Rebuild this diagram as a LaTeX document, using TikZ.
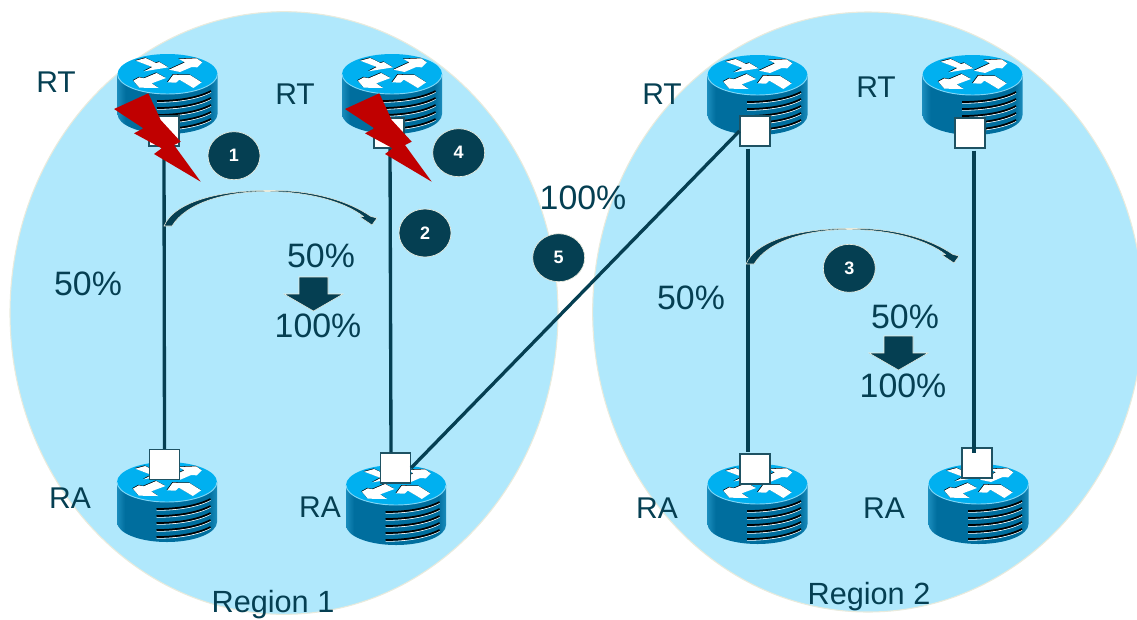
\documentclass[tikz,border=0pt]{standalone}
\usepackage{fontspec}
\setmainfont{Liberation Sans}
\usetikzlibrary{calc,shapes.geometric}
\definecolor{ink}{HTML}{053F52}
\definecolor{regionfill}{HTML}{B0E8FC}
\definecolor{paleedge}{HTML}{E9EBDD}
\definecolor{routertop}{HTML}{00B0F0}
\definecolor{routerrim}{HTML}{7FD6F6}
\definecolor{routerside}{HTML}{006E9E}
\definecolor{routerlight}{HTML}{1A8CBC}
\definecolor{boltred}{HTML}{C00000}
\pgfdeclarehorizontalshading{routerbody}{100bp}{color(0bp)=(routerlight); color(25bp)=(routerlight); color(29bp)=(routerside); color(71bp)=(routerside); color(75bp)=(routerlight); color(100bp)=(routerlight)}
\newcommand{\arrowUL}{(107,65)--(137,57)--(168,72)--(178,69)--(205,85)--(132,97)--(157,84)--cycle}
\newcommand{\arrowUR}{(207,92)--(240,99)--(275,84)--(292,85)--(307,70)--(290,58)--(237,60)--(255,70)--cycle}
\newcommand{\arrowLL}{(198,117)--(170,102)--(132,118)--(118,115)--(100,125)--(118,146)--(176,147)--(155,133)--cycle}
\newcommand{\arrowLR}{(203,130)--(220,107)--(270,108)--(305,130)--(280,147)--(238,122)--(228,131)--cycle}
\newcommand{\curvearrow}{(164,226) .. controls (175,200) and (225,190) .. (270,190.5) .. controls (315,190) and (350,202) .. (371,216.5) -- (377,218) -- (372,225) -- (360,217) -- (363.5,216.5) .. controls (345,202) and (310,192) .. (270,191.5) .. controls (225,191) and (186,203) .. (172,226) -- cycle}
\newcommand{\blockarrow}{(299,277) -- (328,277) -- (328,294) -- (343,294) -- (313.5,311) -- (284,294) -- (299,294) -- cycle}
\newcommand{\boltpath}{(114,109) -- (148.3,93.3) -- (160.7,120) -- (180.7,141.7) -- (174,145) -- (200.7,181.7) -- (154,154) -- (161.7,148.3) -- (134,133.3) -- (143.3,128.3) -- cycle}
\tikzset{
  x=.75pt,y=-.75pt,
  region/.style={fill=regionfill,draw=paleedge,line width=.8pt},
  port/.style={draw=ink!90!white,fill=white,line width=1.1pt,minimum size=22.2pt,inner sep=0pt},
  link/.style={draw=ink,line width=2.5pt},
  label/.style={text=ink,inner sep=0pt,font=\fontsize{25.4}{26}\selectfont},
  hostlabel/.style={text=ink,inner sep=0pt,font=\fontsize{22.5}{23}\selectfont},
  regionlabel/.style={text=ink,inner sep=0pt,font=\fontsize{23}{24}\selectfont},
  badge/.style={ellipse,minimum width=39pt,minimum height=36pt,inner sep=0pt,fill=ink,draw=paleedge,line width=.5pt,text=white,font=\fontsize{13.5}{14}\selectfont\bfseries},
  bolt/.style={fill=boltred},
  turn/.style={fill=ink,draw=paleedge,line width=.4pt},
  stripe/.pic={
    \draw[white,line width=.6pt] (-10.5,1.3) .. controls (10,1.3) and (30,-1.7) .. (43.5,-8.7);
    \draw[black,line width=1.3pt] (-10.5,0) .. controls (10,0) and (30,-3) .. (43.5,-10);
  },
  router/.pic={
    \path[shading=routerbody]
      (-50,0) -- (-50,40) arc[start angle=180,end angle=360,x radius=37.5pt,y radius=15pt] -- (50,0) -- cycle;
    \foreach \s in {27,34,41,48,55} \pic at (0,\s) {stripe};
    \fill[routertop] (0,0) ellipse[x radius=37.5pt,y radius=15pt];
    \draw[routerrim,line width=.7pt] (-50,0) arc[start angle=180,end angle=360,x radius=37.5pt,y radius=15pt];
    \begin{scope}[x=.25pt,y=-.25pt,shift={(-202.5,-105)}]
      \foreach \a in {\arrowUL,\arrowUR,\arrowLL,\arrowLR} {
        \fill[black,xshift=-.4pt,yshift=.4pt] \a;
        \fill[white] \a;
      }
    \end{scope}
  }
}
\begin{document}
\begin{tikzpicture}
\useasboundingbox (0,0) rectangle (1137,619);
\begin{scope}
\clip (0,0) rectangle (1137,619);
\filldraw[region] (284,313) ellipse[x radius=205.5pt,y radius=226pt];
\filldraw[region] (868,312) ellipse[x radius=206.5pt,y radius=225pt];

\pic at (167.5,74) {router};
\pic at (392,74) {router};
\pic at (757.5,75) {router};
\pic at (972.5,75) {router};
\pic at (167,482) {router};
\pic at (396,485) {router};
\pic at (757.5,484) {router};
\pic at (978.5,484) {router};

\node[port] (pt1) at (164,131) {};
\node[port] (pt2) at (389,133) {};
\node[port] (pt3) at (755,131) {};
\node[port] (pt4) at (970,133) {};
\node[port] (pa1) at (164.5,464.5) {};
\node[port] (pa2) at (395.5,468) {};
\node[port] (pa3) at (755,469) {};
\node[port] (pa4) at (977,463) {};

\draw[link] (pt1.south) -- (pa1.north);
\draw[link] ($(pt2.south)+(1,0)$) -- ($(pa2.north)+(-4.5,0)$);
\draw[link] ($(pt3.south)+(-7,2)$) -- ($(pa3.north)+(-7,-1)$);
\draw[link] ($(pt4.south)+(4,2)$) -- ($(pa4.north)+(-3,6)$);
\draw[link] (pa2.east) -- (pt3.west);

\fill[bolt] \boltpath;
\begin{scope}[shift={(231,0)}]
\fill[bolt] \boltpath;
\end{scope}

\filldraw[turn] \curvearrow;
\filldraw[turn] \blockarrow;
\begin{scope}[shift={(582,38)}]
\filldraw[turn] \curvearrow;
\end{scope}
\begin{scope}[shift={(585,59)}]
\filldraw[turn] \blockarrow;
\end{scope}

\node[badge] (b1) at (234,155.7) {1};
\node[badge] (b4) at (458.7,152.7) {4};
\node[badge] (b2) at (425,233) {2};
\node[badge] (b5) at (558.7,257.7) {5};
\node[badge] (b3) at (849.3,268.3) {3};

\node[hostlabel] (t1) at (56,82) {RT};
\node[hostlabel] (t2) at (295,94) {RT};
\node[hostlabel] (t3) at (662,94) {RT};
\node[hostlabel] (t4) at (876,87) {RT};
\node[hostlabel] (a1) at (70,498) {RA};
\node[hostlabel] (a2) at (320,507) {RA};
\node[hostlabel] (a3) at (657,508) {RA};
\node[hostlabel] (a4) at (884,508) {RA};

\node[label] (p1) at (88,284) {50\%};
\node[label] (p2) at (321,256) {50\%};
\node[label] (p3) at (318,326) {100\%};
\node[label] (p4) at (583,198) {100\%};
\node[label] (p5) at (691,298) {50\%};
\node[label] (p6) at (905,317) {50\%};
\node[label] (p7) at (903,386) {100\%};

\node[regionlabel] (r1) at (273,605) {Region 1};
\node[regionlabel] (r2) at (869,597) {Region 2};
\end{scope}
\end{tikzpicture}
\end{document}
